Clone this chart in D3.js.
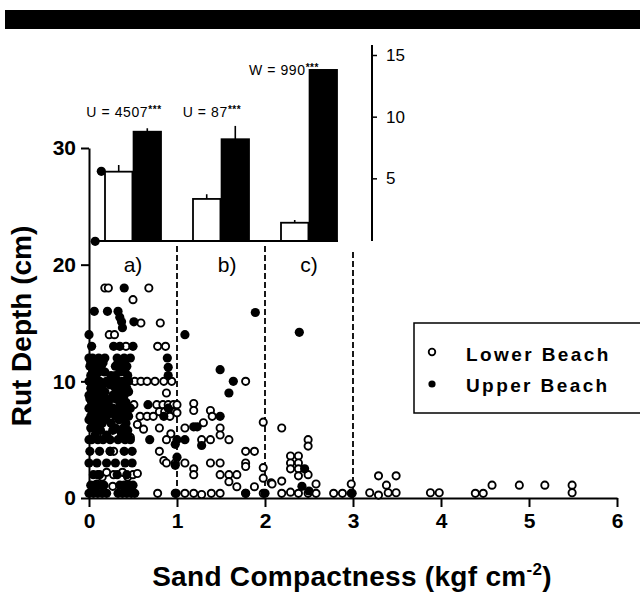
<!DOCTYPE html>
<html>
<head>
<meta charset="utf-8">
<script src="https://cdn.jsdelivr.net/npm/d3@7"></script>
<style>
  body { margin: 0; background: #fff; }
  svg { display: block; font-family: "Liberation Sans", Arial, sans-serif; }
</style>
</head>
<body>
<div id="chart"></div>
<script>
// sand compactness (kgf cm-2), rut depth (cm)
const lowerBeach = [
  [0.18,18],[0.22,18],[0.68,18],[0.50,17],[0.59,15],[0.81,15],[0.23,14],[0.29,14],[0.42,13],[0.78,13],[0.87,13],
  [0.52,10],[0.59,10],[0.66,10],[0.75,10],[0.85,10],[0.94,10],[0.88,9],
  [0.51,8],[0.77,8],[0.84,8],[0.90,8],[0.96,8],
  [0.80,7.4],[0.86,7.4],[0.93,7.4],[0.98,7.4],
  [0.58,7],[0.66,7],[0.73,7],[0.92,7],
  [0.55,6.3],[0.80,6.0],[0.62,5.9],[0.93,5.5],[0.88,5.0],[0.47,5.2],[0.09,5.4],
  [0.24,4],[0.28,4],[0.80,4],[0.85,3.2],[0.88,3.0],[0.98,3.0],
  [0.10,2],[0.15,1.8],[0.20,2.2],[0.28,2],[0.38,2.2],[0.44,1.8],[0.50,2],[0.55,2.1],
  [0.04,1],[0.09,1.2],[0.12,0.8],[0.27,1],[0.43,1],
  [0.78,0.4],[0.98,0.4],
  [1.19,8.1],[1.19,7.5],[1.38,7.5],[1.40,7.0],[1.30,6.45],[1.09,6.0],[1.49,6.0],[1.49,5.4],[1.59,5.0],[1.28,5.0],[1.38,5.0],[1.78,10],[1.0,8],[1.0,7.3],
  [1.09,3.0],[1.19,2.5],[1.19,2.0],[1.38,3.0],[1.49,3.0],[1.49,2.0],[1.59,2.0],[1.68,2.0],[1.59,1.4],[1.68,0.97],[1.78,4.0],[1.88,4.0],[1.78,3.0],[1.78,2.7],[1.88,0.97],[1.98,6.5],[1.98,2.6],[1.98,1.7],[2.07,1.3],
  [1.09,0.4],[1.19,0.4],[1.28,0.3],[1.39,0.4],[1.49,0.4],[1.78,0.4],[1.98,0.4],
  [2.19,6.0],[2.49,5.0],[2.49,4.45],[2.29,3.6],[2.29,3.0],[2.29,2.5],[2.38,3.6],[2.38,3.0],[2.38,2.5],[2.49,2.0],[2.38,1.9],[2.08,1.2],[2.19,1.45],[2.58,1.2],
  [2.19,0.4],[2.29,0.5],[2.38,0.4],[2.49,0.4],[2.58,0.4],[2.78,0.4],[2.88,0.4],[2.98,0.4],[2.98,1.2],
  [3.19,0.45],[3.29,0.25],[3.29,1.9],[3.38,1.1],[3.49,1.9],[3.40,0.45],[3.49,0.45],[3.88,0.45],[3.98,0.45],
  [4.39,0.4],[4.48,0.4],[4.58,1.1],[4.89,1.1],[5.18,1.1],[5.49,1.1],[5.49,0.45]
];

const upperBeach = [
  [0.14,28],[0.07,22],[0.40,18],
  [0.06,16],[0.21,16],[0.33,16],[0.35,15.5],[0.37,15.1],[0.38,14.6],[0.51,15.1],
  [0.00,14],[0.03,13],[0.28,13],[0.35,13],[0.50,13],
  [0.00,12],[0.04,12],[0.11,12],[0.18,12],[0.32,12],[0.40,12],[0.47,12],[0.89,12],
  [0.02,11.6],[0.09,11.6],[0.16,11.6],[0.33,11.6],[0.40,11.6],
  [0.01,11.3],[0.06,11.3],[0.14,11.3],[0.30,11.3],[0.36,11.3],[0.43,11.3],[0.90,11.2],
  [0.04,10.8],[0.11,10.8],[0.18,10.8],[0.35,10.8],[0.41,10.8],
  [0.02,10.5],[0.08,10.5],[0.25,10.5],[0.30,10.5],[0.44,10.5],[0.90,10.5],
  [0.00,10],[0.04,10],[0.08,10],[0.12,10],[0.20,10],[0.28,10],[0.33,10],[0.38,10],[0.45,10],
  [0.03,9.7],[0.10,9.7],[0.16,9.7],[0.24,9.7],[0.35,9.7],[0.41,9.7],
  [0.02,9.4],[0.07,9.4],[0.13,9.4],[0.30,9.4],[0.37,9.4],[0.43,9.4],
  [0.03,9.1],[0.09,9.1],[0.18,9.1],[0.34,9.1],[0.45,9.1],
  [0.00,8.8],[0.05,8.8],[0.10,8.8],[0.16,8.8],[0.27,8.8],[0.32,8.8],[0.40,8.8],
  [0.01,8.5],[0.07,8.5],[0.12,8.5],[0.19,8.5],[0.30,8.5],[0.38,8.5],
  [0.03,8.2],[0.09,8.2],[0.14,8.2],[0.22,8.2],[0.35,8.2],[0.42,8.2],[0.67,8.0],
  [0.00,7.7],[0.06,7.7],[0.12,7.7],[0.18,7.7],[0.27,7.7],[0.33,7.7],[0.40,7.7],[0.47,7.7],[0.90,7.7],
  [0.04,7.35],[0.09,7.35],[0.15,7.35],[0.24,7.35],[0.36,7.35],[0.43,7.35],
  [0.02,7.0],[0.10,7.0],[0.20,7.0],[0.30,7.0],[0.38,7.0],[0.45,7.0],[0.85,7.0],
  [0.00,6.7],[0.07,6.7],[0.17,6.7],[0.34,6.7],[0.40,6.7],
  [0.05,6.4],[0.15,6.4],[0.25,6.4],[0.42,6.4],
  [0.02,6.0],[0.09,6.0],[0.30,6.0],[0.39,6.0],
  [0.13,5.8],[0.27,5.8],[0.35,5.8],[0.44,5.8],
  [0.07,5.4],[0.20,5.4],[0.37,5.4],[0.44,5.4],
  [0.00,5],[0.03,5],[0.10,5],[0.16,5],[0.24,5],[0.33,5],[0.41,5],[0.47,5],[0.69,5],[0.98,4.6],
  [0.01,4],[0.12,4],[0.24,4],[0.40,4],[0.49,4],
  [0.00,3],[0.09,3],[0.20,3],[0.30,3],[0.41,3],[0.49,3],[0.98,2.8],
  [0.05,2],[0.12,2],[0.32,2],[0.43,2],
  [0.02,1.1],[0.07,1.1],[0.12,1.1],[0.17,1.1],[0.35,1.1],[0.40,1.1],[0.45,1.1],[0.50,1.1],
  [0.00,0.4],[0.05,0.4],[0.10,0.4],[0.15,0.4],[0.20,0.4],[0.33,0.4],[0.38,0.4],[0.43,0.4],[0.48,0.4],[0.52,0.4],
  [1.09,14],[1.89,15.9],[1.49,11],[1.64,10],[1.59,9],[1.49,7],[1.19,6.1],[1.23,6.1],[1.09,5],[1.28,4.5],[1.0,5],[1.0,3.5],[0.99,0.4],[1.78,0.4],[2.0,0.4],
  [2.39,14.2],[2.42,1.0],[2.5,0.6],[2.45,2.5],[2.99,0.4]
];

// inset: mean rut depth per compactness class
const classes = ["a)", "b)", "c)"];
const classCentres = [0.5, 1.5, 2.5];
const labelPos = [0.5, 1.57, 2.5];
const lowerMeans = [5.54, 3.33, 1.40];
const lowerErr = [0.54, 0.38, 0.22];
const upperMeans = [8.78, 8.17, 13.79];
const upperErr = [0.28, 1.08, 0];
const testLabels = ["U = 4507", "U = 87", "W = 990"];
const insetTicks = [5, 10, 15];
const classBounds = [1, 2, 3];

const xTicks = [0, 1, 2, 3, 4, 5, 6];
const yTicks = [0, 10, 20, 30];

const width = 640, height = 592;

const svg = d3.select("#chart")
    .append("svg")
    .attr("width", width)
    .attr("height", height);

// black band along the top
svg.append("rect")
    .attr("x", 5).attr("y", 10)
    .attr("width", 635).attr("height", 19)
    .attr("fill", "#000");

const x = d3.scaleLinear().domain([0, 6]).range([89, 617]);
const y = d3.scaleLinear().domain([0, 30]).range([498, 148]);

// x-axis
const xAxis = svg.append("g")
    .attr("transform", `translate(0,${y(0)})`)
    .call(d3.axisBottom(x).tickValues(xTicks).tickFormat(d3.format("d"))
        .tickSize(9).tickSizeOuter(0).tickPadding(6));
xAxis.select(".domain").attr("stroke-width", 2);
xAxis.selectAll(".tick line").attr("stroke-width", 2);
xAxis.selectAll(".tick text")
    .attr("font-size", 21).attr("font-weight", "bold").attr("fill", "#000")
    .attr("font-family", "Liberation Sans, Arial, sans-serif");

// y-axis
const yAxis = svg.append("g")
    .attr("transform", `translate(${x(0)},0)`)
    .call(d3.axisLeft(y).tickValues(yTicks).tickFormat(d3.format("d"))
        .tickSize(8).tickSizeOuter(0).tickPadding(5));
yAxis.select(".domain").attr("stroke-width", 2);
yAxis.selectAll(".tick line").attr("stroke-width", 2);
yAxis.selectAll(".tick text")
    .attr("font-size", 21).attr("font-weight", "bold").attr("fill", "#000")
    .attr("font-family", "Liberation Sans, Arial, sans-serif");

// axis titles
const xTitle = svg.append("text")
    .attr("x", 352).attr("y", 586)
    .attr("text-anchor", "middle")
    .attr("font-size", 28).attr("font-weight", "bold")
    .attr("letter-spacing", 0.3);
xTitle.append("tspan").text("Sand Compactness (kgf cm");
xTitle.append("tspan").attr("dy", -11).attr("font-size", 17).text("-2");
xTitle.append("tspan").attr("dy", 11).text(")");

svg.append("text")
    .attr("transform", "translate(31,326) rotate(-90)")
    .attr("text-anchor", "middle")
    .attr("font-size", 28).attr("font-weight", "bold")
    .text("Rut Depth (cm)");

// class boundaries
svg.selectAll(".bound")
    .data(classBounds)
    .enter().append("line")
    .attr("x1", d => x(d)).attr("x2", d => x(d))
    .attr("y1", (d, i) => i === 2 ? 252 : 246)
    .attr("y2", y(0))
    .attr("stroke", "#000")
    .attr("stroke-width", 1.8)
    .attr("stroke-dasharray", "6,3");

svg.selectAll(".classLabel")
    .data(classes)
    .enter().append("text")
    .attr("x", (d, i) => x(labelPos[i]))
    .attr("y", 272)
    .attr("text-anchor", "middle")
    .attr("font-size", 21)
    .text(d => d);

// points
svg.selectAll(".lower")
    .data(lowerBeach)
    .enter().append("circle")
    .attr("cx", d => x(d[0]))
    .attr("cy", d => y(d[1]))
    .attr("r", 3.6)
    .attr("fill", "#fff")
    .attr("stroke", "#000")
    .attr("stroke-width", 1.9);

svg.selectAll(".upper")
    .data(upperBeach)
    .enter().append("circle")
    .attr("cx", d => x(d[0]))
    .attr("cy", d => y(d[1]))
    .attr("r", 4.6)
    .attr("fill", "#000");

// inset bar chart
const yIn = d3.scaleLinear().domain([0, 15]).range([240, 55]);
const sub = d3.scaleBand().domain(["lower", "upper"]).range([-28, 28]).paddingInner(0.04);

const insetAxis = svg.append("g")
    .attr("transform", "translate(372,0)")
    .call(d3.axisRight(yIn).tickValues(insetTicks).tickSize(5).tickSizeOuter(0).tickPadding(9));
insetAxis.select(".domain").attr("d", "M0,45V241").attr("stroke-width", 2);
insetAxis.selectAll(".tick line").attr("stroke-width", 1.5);
insetAxis.selectAll(".tick text")
    .attr("font-size", 17).attr("fill", "#000")
    .attr("font-family", "Liberation Sans, Arial, sans-serif");

const bars = [];
classes.forEach((c, i) => {
    bars.push({c: classCentres[i], s: "lower", v: lowerMeans[i], e: lowerErr[i]});
    bars.push({c: classCentres[i], s: "upper", v: upperMeans[i], e: upperErr[i]});
});

// error whiskers
svg.selectAll(".err")
    .data(bars.filter(d => d.e > 0))
    .enter().append("line")
    .attr("x1", d => x(d.c) + sub(d.s) + sub.bandwidth() / 2)
    .attr("x2", d => x(d.c) + sub(d.s) + sub.bandwidth() / 2)
    .attr("y1", d => yIn(d.v))
    .attr("y2", d => yIn(d.v + d.e))
    .attr("stroke", "#000")
    .attr("stroke-width", 1.6);

svg.selectAll(".bar")
    .data(bars)
    .enter().append("rect")
    .attr("x", d => x(d.c) + sub(d.s))
    .attr("y", d => yIn(d.v))
    .attr("width", sub.bandwidth())
    .attr("height", d => 241 - yIn(d.v))
    .attr("fill", d => d.s === "lower" ? "#fff" : "#000")
    .attr("stroke", "#000")
    .attr("stroke-width", 1.8);

svg.append("line")
    .attr("x1", 95).attr("x2", 338)
    .attr("y1", 241).attr("y2", 241)
    .attr("stroke", "#000").attr("stroke-width", 2);

// test statistics
testLabels.forEach((t, i) => {
    const txt = svg.append("text")
        .attr("x", x(classCentres[i]) - (i === 2 ? 25 : 9))
        .attr("y", i === 2 ? 75 : 117)
        .attr("text-anchor", "middle")
        .attr("font-size", 14)
        .attr("letter-spacing", 0.6);
    txt.append("tspan").text(t);
    txt.append("tspan").attr("dy", -4).attr("font-size", 10).attr("font-weight", "bold").text("***");
});

// legend
const legend = svg.append("g");
legend.append("rect")
    .attr("x", 414).attr("y", 323)
    .attr("width", 240).attr("height", 90)
    .attr("fill", "#fff")
    .attr("stroke", "#000").attr("stroke-width", 1.5);
legend.append("circle")
    .attr("cx", 432).attr("cy", 352).attr("r", 3.3)
    .attr("fill", "#fff").attr("stroke", "#000").attr("stroke-width", 1.8);
legend.append("circle")
    .attr("cx", 432).attr("cy", 384).attr("r", 3.6)
    .attr("fill", "#000");
legend.append("text")
    .attr("x", 466).attr("y", 361)
    .attr("font-size", 19).attr("font-weight", "bold").attr("letter-spacing", 2.4)
    .text("Lower Beach");
legend.append("text")
    .attr("x", 466).attr("y", 392)
    .attr("font-size", 19).attr("font-weight", "bold").attr("letter-spacing", 2.4)
    .text("Upper Beach");
</script>
</body>
</html>
